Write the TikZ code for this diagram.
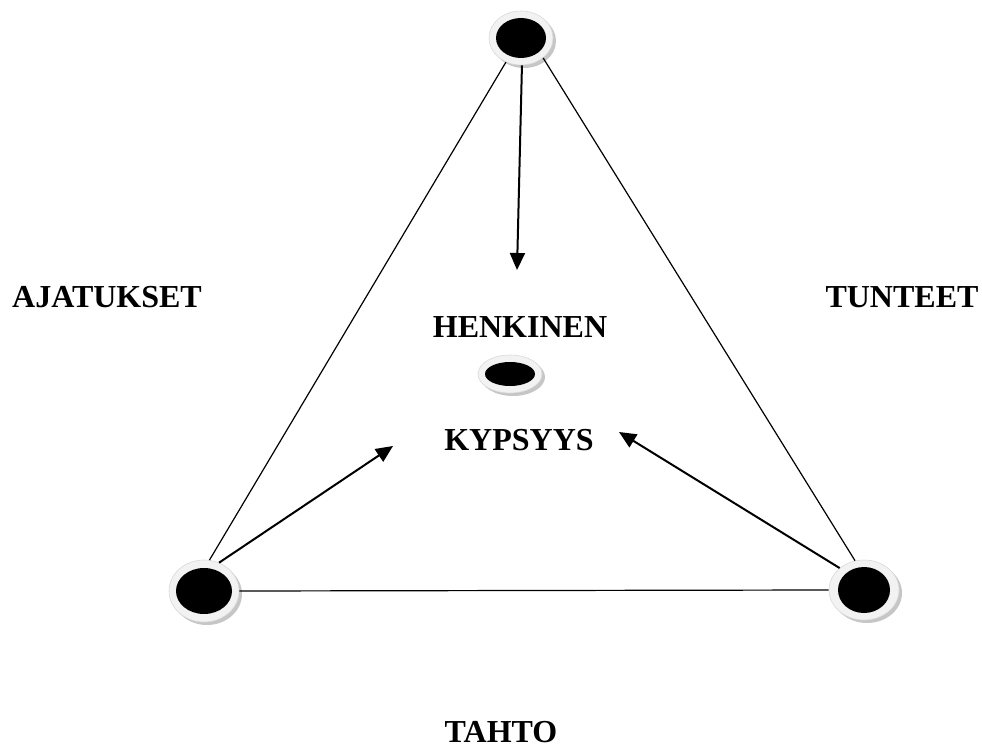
\documentclass[tikz,border=0pt]{standalone}
\usepackage{fontspec}
\setmainfont{Liberation Serif}
\usetikzlibrary{shapes.geometric,shadows,arrows.meta}
\begin{document}
\begin{tikzpicture}[x=1pt,y=-1pt,
  dotnode/.style args={#1/#2/#3/#4}{ellipse, minimum width=#1pt, minimum height=#2pt, inner sep=0pt,
     fill=gray!10, draw=gray!30, line width=0.6pt,
     drop shadow={shadow xshift=3pt, shadow yshift=-3pt, fill=gray!45, opacity=1},
     path picture={\fill[black] (path picture bounding box.center) ellipse ({#3pt} and {#4pt});}},
  side/.style={line width=1.2pt},
  arr/.style={line width=2pt, -{Triangle[length=17pt,width=15pt]}},
  lbl/.style={font=\fontsize{32}{36}\selectfont\bfseries, anchor=base, inner sep=0pt}]
\useasboundingbox (0,0) rectangle (982,751);
% labels
\node[lbl] (ajat) at (107,307) {AJATUKSET};
\node[lbl] (tunt) at (902,307) {TUNTEET};
\node[lbl] (henk) at (520,337) {HENKINEN};
\node[lbl] (kyps) at (519,450) {KYPSYYS};
\node[lbl] (taht) at (501,742) {TAHTO};
% arrow tips
\coordinate (tipT) at (517,270);
\coordinate (tipL) at (393,446);
\coordinate (tipR) at (619,432);
% dots
\node[dotnode=64/54/25/20] (top) at (521,38) {};
\node[dotnode=70/62/28/23] (bl) at (204,591) {};
\node[dotnode=70/60/26/23] (br) at (864,590) {};
\node[dotnode=64/38/25/12] (mid) at (510,374) {};
\draw[side] (top.238) -- (bl.80);
\draw[side] (top.318) -- (br.107);
\draw[side] (bl.east) -- (br.west);
\draw[arr] (top.272) -- (tipT);
\draw[arr] (bl.62) -- (tipL);
\draw[arr] (br.138) -- (tipR);
\end{tikzpicture}
\end{document}
